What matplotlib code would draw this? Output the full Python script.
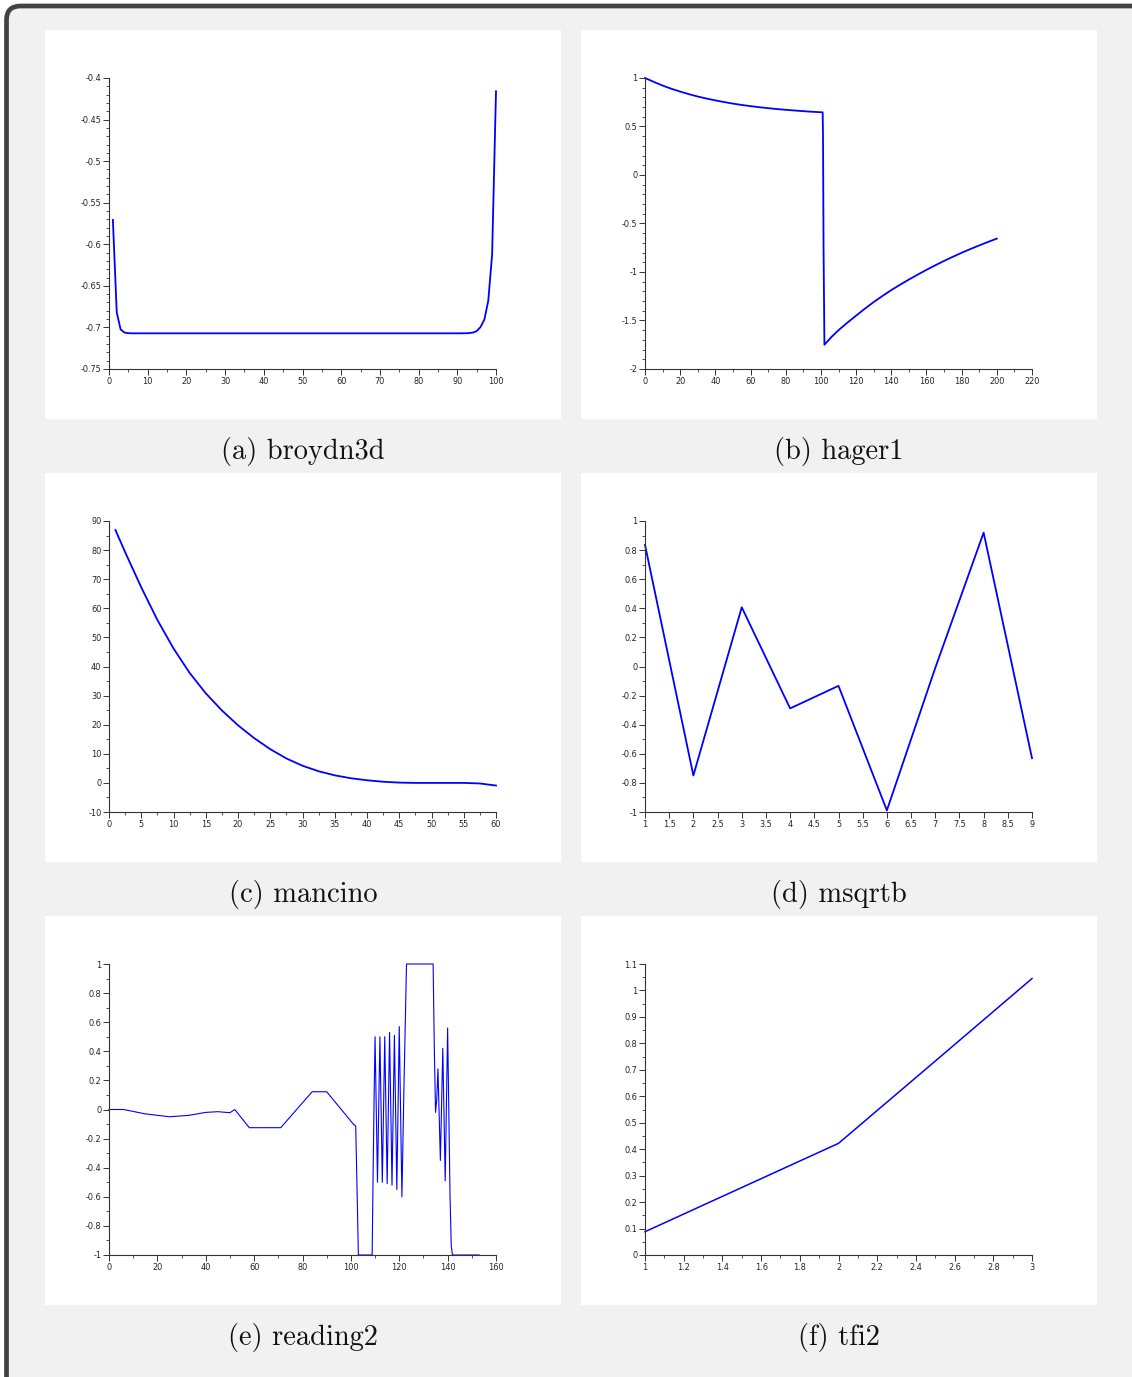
import matplotlib
matplotlib.use("Agg")
import matplotlib.pyplot as plt
from matplotlib.patches import FancyBboxPatch, Rectangle
from matplotlib.ticker import MultipleLocator, FuncFormatter

plt.rcParams['axes.unicode_minus'] = False

W, H = 1132, 1377

# (a) broydn3d
broy_x = [1, 2, 3, 4, 5, 6, 7, 10, 20, 30, 40, 50, 60, 70, 80, 90, 92, 93, 94, 95, 96, 97, 98, 99, 100]
broy_y = [-0.5707, -0.6819, -0.7024, -0.7062, -0.7069, -0.7071, -0.7071, -0.7071, -0.7071, -0.7071,
          -0.7071, -0.7071, -0.7071, -0.7071, -0.7071, -0.7071, -0.7070, -0.7068, -0.7062, -0.7045,
          -0.6995, -0.6905, -0.6680, -0.6120, -0.4160]

# (b) hager1
hag_x = [0, 5, 10, 15, 20, 25, 30, 35, 40, 45, 50, 55, 60, 65, 70, 75, 80, 85, 90, 95, 100,
         101, 101.2, 101.5, 102, 104, 106, 108, 110, 115, 120, 125, 130, 135, 140, 145, 150,
         155, 160, 165, 170, 175, 180, 185, 190, 195, 200]
hag_y = [1.0, 0.960, 0.922, 0.889, 0.860, 0.833, 0.809, 0.788, 0.769, 0.752, 0.736, 0.722, 0.710,
         0.699, 0.689, 0.680, 0.672, 0.665, 0.658, 0.652, 0.647, 0.646, 0.40, -0.75, -1.75, -1.71,
         -1.67, -1.635, -1.60, -1.523, -1.45, -1.378, -1.31, -1.247, -1.187, -1.131, -1.078,
         -1.027, -0.978, -0.931, -0.886, -0.843, -0.802, -0.763, -0.726, -0.690, -0.656]

# (c) mancino
man_x = [1, 2.5, 5, 7.5, 10, 12.5, 15, 17.5, 20, 22.5, 25, 27.5, 30, 32.5, 35, 37.5, 40, 42.5,
         45, 47.5, 55, 57.5, 60]
man_y = [86.9, 79.3, 67.2, 56.0, 46.2, 37.8, 30.8, 24.9, 19.8, 15.4, 11.6, 8.4, 5.9, 4.0, 2.6,
         1.6, 0.9, 0.4, 0.1, 0.0, 0.0, -0.2, -0.9]

# (d) msqrtb
msq_x = [1, 2, 3, 4, 5, 6, 7, 8, 9]
msq_y = [0.836, -0.749, 0.407, -0.288, -0.133, -0.989, -0.01, 0.92, -0.63]

# (e) reading2
rd_x = [0, 6, 15, 25, 33, 40, 45, 50, 52, 58, 71, 84, 90, 101, 102, 102.4, 102.8, 103.1, 108.8,
        109.2, 109.6, 110, 111, 112, 113, 114, 115, 116, 117, 118, 119, 120, 121.1, 122, 123,
        134, 134.5, 135, 135.5, 136, 137, 138, 139, 140, 141, 141.5, 142, 153]
rd_y = [0.0, 0.0, -0.03, -0.05, -0.04, -0.02, -0.015, -0.022, 0.0, -0.125, -0.125, 0.122, 0.122,
        -0.10, -0.114, -0.43, -0.75, -1.0, -1.0, -0.43, 0.08, 0.50, -0.50, 0.50, -0.50, 0.50, -0.51,
        0.53, -0.52, 0.51, -0.55, 0.57, -0.60, 0.20, 1.0, 1.0, 0.42, -0.02, 0.07, 0.28, -0.35, 0.42,
        -0.49, 0.56, -0.60, -0.94, -1.0, -1.0]

# (f) tfi2
tfi_x = [1, 1.5, 2, 2.5, 3]
tfi_y = [0.088, 0.255, 0.422, 0.733, 1.045]

captions = ['(a) broydn3d', '(b) hager1', '(c) mancino', '(d) msqrtb', '(e) reading2', '(f) tfi2']

panels = [
    (broy_x, broy_y, (0, 100), (-0.75, -0.4), 10, 5, 0.05, 0.01, 1.3),
    (hag_x, hag_y, (0, 220), (-2, 1), 20, 10, 0.5, 0.1, 1.3),
    (man_x, man_y, (0, 60), (-10, 90), 5, 2.5, 10, 5, 1.3),
    (msq_x, msq_y, (1, 9), (-1, 1), 0.5, None, 0.2, 0.1, 1.3),
    (rd_x, rd_y, (0, 160), (-1, 1), 20, 10, 0.2, 0.1, 0.8),
    (tfi_x, tfi_y, (1, 3), (0, 1.1), 0.2, 0.1, 0.1, 0.05, 1.1),
]

fig = plt.figure(figsize=(W / 100, H / 100), dpi=100)
fig.patch.set_facecolor('white')

bg = fig.add_axes([0, 0, 1, 1])
bg.set_xlim(0, W)
bg.set_ylim(H, 0)
bg.axis('off')
bg.add_patch(FancyBboxPatch((6.5, 6), W + 20, H + 30, boxstyle="round,pad=0,rounding_size=14",
                            fc='#f1f1f1', ec='#424242', lw=3.4))

col_px = [(45, 561, 109, 496), (581, 1097, 645, 1032)]
row_px = [(30, 419, 78, 369, 459), (473, 862, 521, 812, 902), (916, 1305, 964, 1255, 1345)]

fmt = FuncFormatter(lambda v, p: '%g' % round(v, 6))

for i, (xs, ys, xl, yl, xmaj, xmin, ymaj, ymin, lw) in enumerate(panels):
    r, c = divmod(i, 2)
    px0, px1, ax0, ax1 = col_px[c]
    py0, py1, ay0, ay1, cap_y = row_px[r]
    bg.add_patch(Rectangle((px0, py0), px1 - px0, py1 - py0, fc='white', ec='none'))
    bg.text((px0 + px1) / 2, cap_y, captions[i], family='cmr10', fontsize=20.5,
            ha='center', va='baseline', color='#111111')

    ax = fig.add_axes([ax0 / W, 1 - ay1 / H, (ax1 - ax0) / W, (ay1 - ay0) / H])
    ax.plot(xs, ys, color='#0000ff', lw=lw, clip_on=False)
    ax.set_xlim(*xl)
    ax.set_ylim(*yl)
    ax.patch.set_alpha(0)
    for s in ['top', 'right']:
        ax.spines[s].set_visible(False)
    for s in ['left', 'bottom']:
        ax.spines[s].set_color('#333333')
        ax.spines[s].set_linewidth(0.8)
    ax.xaxis.set_major_locator(MultipleLocator(xmaj))
    if xmin:
        ax.xaxis.set_minor_locator(MultipleLocator(xmin))
    ax.yaxis.set_major_locator(MultipleLocator(ymaj))
    ax.yaxis.set_minor_locator(MultipleLocator(ymin))
    ax.xaxis.set_major_formatter(fmt)
    ax.yaxis.set_major_formatter(fmt)
    ax.tick_params(which='major', length=4, width=0.7, labelsize=5.9, pad=1.5,
                   color='#333333', labelcolor='#222222')
    ax.tick_params(which='minor', length=2, width=0.6, color='#333333')

fig.savefig('out.png', dpi=100)
